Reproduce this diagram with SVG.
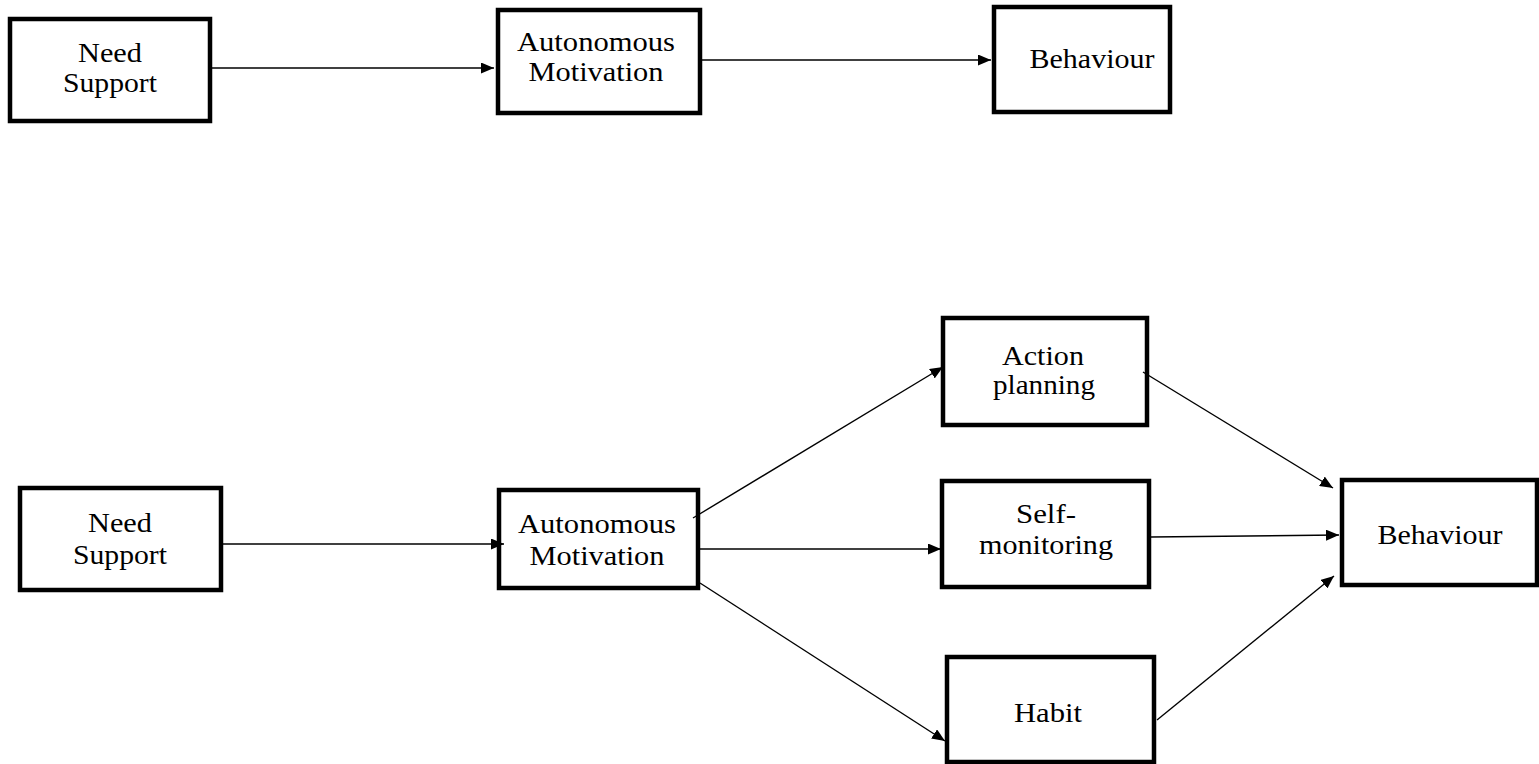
<svg xmlns="http://www.w3.org/2000/svg" width="1539" height="764" viewBox="0 0 1539 764">
  <defs>
    <style>
      .box { fill: #ffffff; stroke: #000000; stroke-width: 4.5; }
      .lbl { font-size: 27px; fill: #000000; text-anchor: middle; }
      .edge { stroke: #000000; stroke-width: 1.4; fill: none; marker-end: url(#arrow); }
    </style>
    <marker id="arrow" viewBox="0 0 13 11" refX="13" refY="5.5" markerWidth="13" markerHeight="11" markerUnits="userSpaceOnUse" orient="auto">
      <path d="M0,0 L13,5.5 L0,11 z" fill="#000000"/>
    </marker>
  </defs>
  <rect width="1539" height="764" fill="#ffffff"/>

  <g font-family="Liberation Serif, Times New Roman, serif">
    <!-- top model -->
    <g id="need-support-1">
      <rect class="box" x="10" y="19" width="200" height="102"/>
      <text class="lbl" x="110" y="62" textLength="64" lengthAdjust="spacingAndGlyphs">Need</text>
      <text class="lbl" x="110" y="92" textLength="94" lengthAdjust="spacingAndGlyphs">Support</text>
    </g>
    <g id="autonomous-motivation-1">
      <rect class="box" x="498" y="10" width="202" height="103"/>
      <text class="lbl" x="596" y="51" textLength="158" lengthAdjust="spacingAndGlyphs">Autonomous</text>
      <text class="lbl" x="596" y="81" textLength="135" lengthAdjust="spacingAndGlyphs">Motivation</text>
    </g>
    <g id="behaviour-1">
      <rect class="box" x="994" y="7" width="176" height="105"/>
      <text class="lbl" x="1092" y="68" textLength="125" lengthAdjust="spacingAndGlyphs">Behaviour</text>
    </g>

    <!-- extended model -->
    <g id="need-support-2">
      <rect class="box" x="20" y="488" width="201" height="102"/>
      <text class="lbl" x="120" y="532" textLength="64" lengthAdjust="spacingAndGlyphs">Need</text>
      <text class="lbl" x="120" y="564" textLength="94" lengthAdjust="spacingAndGlyphs">Support</text>
    </g>
    <g id="autonomous-motivation-2">
      <rect class="box" x="499" y="490" width="199" height="98"/>
      <text class="lbl" x="597" y="533" textLength="158" lengthAdjust="spacingAndGlyphs">Autonomous</text>
      <text class="lbl" x="597" y="565" textLength="135" lengthAdjust="spacingAndGlyphs">Motivation</text>
    </g>
    <g id="action-planning">
      <rect class="box" x="943" y="318" width="204" height="107"/>
      <text class="lbl" x="1043" y="365" textLength="82" lengthAdjust="spacingAndGlyphs">Action</text>
      <text class="lbl" x="1044" y="394" textLength="102" lengthAdjust="spacingAndGlyphs">planning</text>
    </g>
    <g id="self-monitoring">
      <rect class="box" x="942" y="481" width="207" height="106"/>
      <text class="lbl" x="1046" y="523" textLength="60" lengthAdjust="spacingAndGlyphs">Self-</text>
      <text class="lbl" x="1046" y="554" textLength="134" lengthAdjust="spacingAndGlyphs">monitoring</text>
    </g>
    <g id="habit">
      <rect class="box" x="947" y="657" width="207" height="105"/>
      <text class="lbl" x="1048" y="722" textLength="68" lengthAdjust="spacingAndGlyphs">Habit</text>
    </g>
    <g id="behaviour-2">
      <rect class="box" x="1342" y="480" width="195" height="105"/>
      <text class="lbl" x="1440" y="544" textLength="125" lengthAdjust="spacingAndGlyphs">Behaviour</text>
    </g>
  </g>

  <!-- connectors -->
  <g id="connectors">
    <line class="edge" x1="212" y1="68" x2="494" y2="68"/>
    <line class="edge" x1="702" y1="60" x2="991" y2="60"/>
    <line class="edge" x1="223" y1="544" x2="504" y2="544"/>
    <line class="edge" x1="693" y1="518" x2="943" y2="367"/>
    <line class="edge" x1="700" y1="549" x2="941" y2="549"/>
    <line class="edge" x1="700" y1="583" x2="945" y2="741"/>
    <line class="edge" x1="1143" y1="372" x2="1333" y2="488"/>
    <line class="edge" x1="1151" y1="537" x2="1339" y2="535"/>
    <line class="edge" x1="1157" y1="720" x2="1334" y2="576"/>
  </g>
</svg>
